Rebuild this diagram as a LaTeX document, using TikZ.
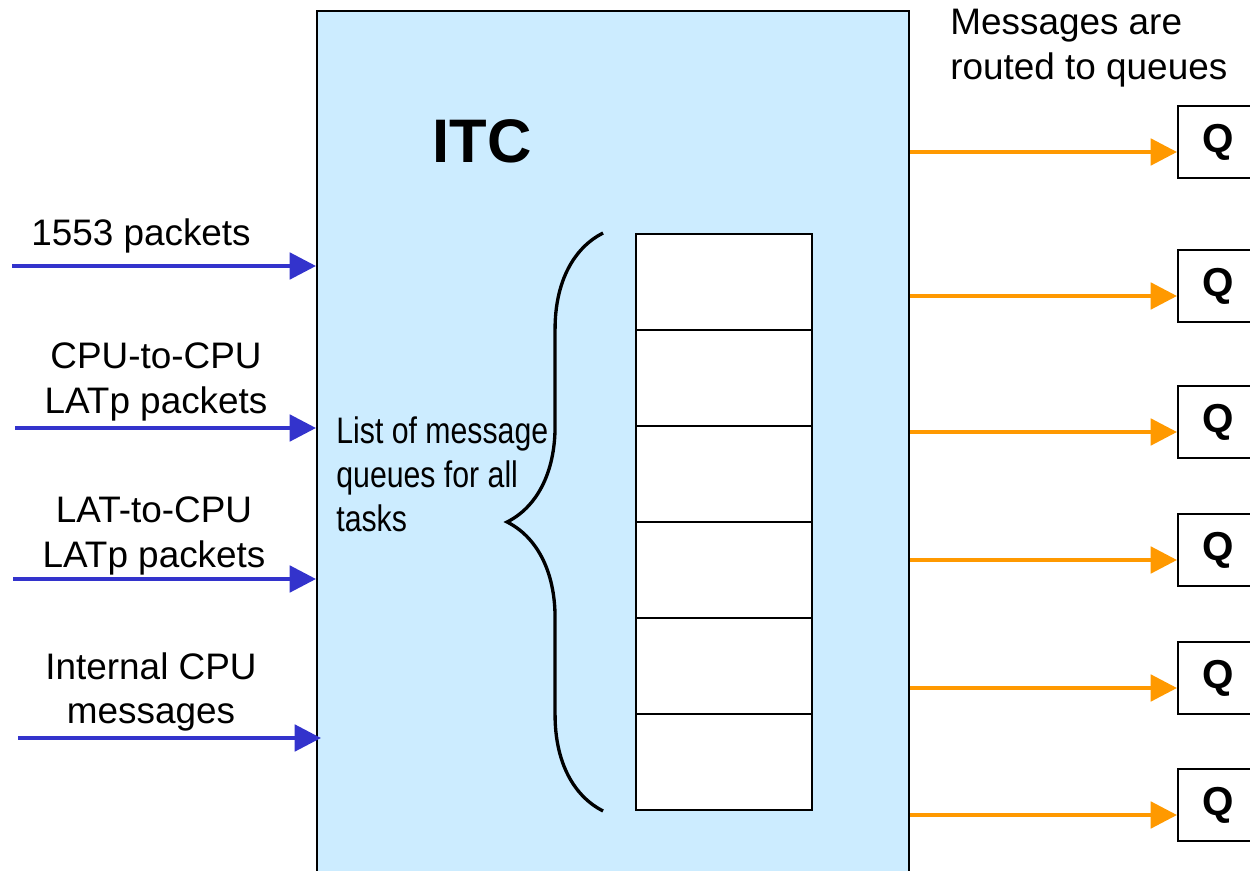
\documentclass[tikz,border=0pt]{standalone}
\usepackage{fontspec}
\setmainfont{Liberation Sans}
\newfontfamily\narrowfont[FakeStretch=0.82]{Liberation Sans}
\usetikzlibrary{arrows.meta, decorations.pathreplacing}
\definecolor{itcblue}{HTML}{CCECFF}
\definecolor{inblue}{HTML}{3333CC}
\definecolor{outorange}{HTML}{FF9900}
\tikzset{>={Triangle[length=15pt,width=15pt]},
  lbl/.style={font=\fontsize{21}{25.5}\selectfont, align=center, inner sep=0pt},
  itcbox/.style={draw, line width=1.2pt, fill=itcblue, anchor=north west, minimum width=11.84cm, minimum height=18cm},
  cell/.style={draw, line width=1.1pt, fill=white, minimum width=3.52cm, minimum height=1.92cm},
  qbox/.style={draw, line width=1.1pt, anchor=west, minimum width=1.6cm, minimum height=1.44cm, font=\fontsize{23}{27}\selectfont\bfseries},
  inarrow/.style={->, line width=2.3pt, inblue},
  outarrow/.style={->, line width=2.3pt, outorange}}
\begin{document}
\begin{tikzpicture}[x=0.02cm, y=-0.02cm]
    \useasboundingbox (0,0) rectangle (1250,871);
    \clip (0,0) rectangle (1250,871);
    \node[itcbox] (itc) at (316,10) {};
    \node[font=\fontsize{35}{40}\selectfont\bfseries] (title) at (482,141) {ITC};
    % message queue list
    \foreach \i in {1,...,6}
        \node[cell] (c\i) at (724,{186+96*\i}) {};
    \draw[line width=1.9pt, decorate, decoration={brace, amplitude=1.92cm}]
        ([xshift=-0.64cm]c6.south west) -- ([xshift=-0.64cm]c1.north west);
    \node[lbl, font=\fontsize{21}{25}\selectfont\narrowfont, align=left, anchor=west] (list) at (336,474)
        {List of message\\queues for all\\tasks};
    % inputs
    \node[lbl] (l1) at (141,236) {1553 packets};
    \node[lbl] (l2) at (156,382) {CPU-to-CPU\\LATp packets};
    \node[lbl] (l3) at (154,536) {LAT-to-CPU\\LATp packets};
    \node[lbl] (l4) at (151,692) {Internal CPU\\messages};
    \coordinate (in1) at (12,266);
    \coordinate (in2) at (15,428);
    \coordinate (in3) at (13,579);
    \coordinate (in4) at (18,738);
    \draw[inarrow] (in1) -- (in1 -| itc.west);
    \draw[inarrow] (in2) -- (in2 -| itc.west);
    \draw[inarrow] (in3) -- (in3 -| itc.west);
    \draw[inarrow] (in4) -- ([xshift=0.1cm]in4 -| itc.west);
    % outputs
    \node[lbl, align=left, anchor=west] (msg) at (950,48) {Messages are\\routed to queues};
    \foreach \i/\y in {1/142,2/286,3/422,4/550,5/678,6/805} {
        \node[qbox] (q\i) at (1177,\y) {Q};
        \coordinate (o\i) at ([yshift=-0.2cm]q\i.west);
        \draw[outarrow] (o\i -| itc.east) -- (o\i);
    }
\end{tikzpicture}
\end{document}
